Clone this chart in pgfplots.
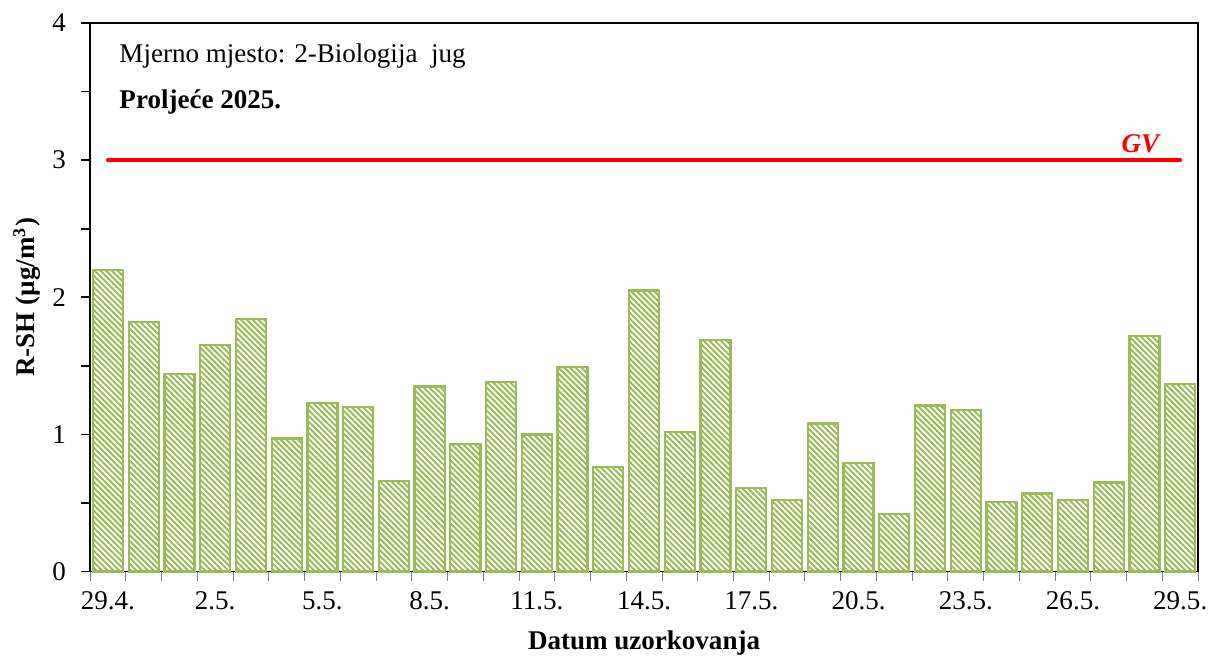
\documentclass[12pt,border=0pt]{standalone}
\usepackage{fontspec}
\setmainfont{Liberation Serif}
\usepackage{pgfplots}
\pgfplotsset{compat=1.18}
\usetikzlibrary{patterns.meta}

\definecolor{barGreen}{HTML}{9BBB59}

\begin{document}
\begin{tikzpicture}
\begin{axis}[
    scale only axis,
    width=492pt, height=243.6pt,
    xmin=-0.5, xmax=30.5,
    ymin=0, ymax=4,
    ytick={0,1,2,3,4},
    minor ytick={0.5,1.5,2.5,3.5},
    xtick={0,3,...,30},
    xticklabels={29.4.,2.5.,5.5.,8.5.,11.5.,14.5.,17.5.,20.5.,23.5.,26.5.,29.5.},
    minor xtick={-0.5,0.5,...,30.5},
    x tick style={draw=none},
    minor x tick style={draw=gray, thin},
    tick align=outside,
    major tick length=4pt,
    minor tick length=4pt,
    xtick pos=bottom, ytick pos=left,
    axis line style={black, line width=0.8pt},
    y tick style={black, line width=0.8pt},
    yticklabel style={xshift=-2.5pt},
    xticklabel style={text height=1.6ex, text depth=0.3ex},
    /pgf/number format/assume math mode=true,
    xlabel={\textbf{Datum uzorkovanja}},
    xlabel style={yshift=0.8pt},
    clip=false,
]
\addplot[ybar, bar width=0.84, draw=barGreen, line width=1pt,
    pattern={Lines[angle=-45, distance=1.8pt, line width=0.9pt]},
    pattern color=barGreen]
coordinates {
    (0,2.20) (1,1.82) (2,1.44) (3,1.65) (4,1.84) (5,0.97) (6,1.23) (7,1.20)
    (8,0.66) (9,1.35) (10,0.93) (11,1.38) (12,1.00) (13,1.49) (14,0.76)
    (15,2.05) (16,1.02) (17,1.69) (18,0.61) (19,0.52) (20,1.08) (21,0.79)
    (22,0.42) (23,1.21) (24,1.18) (25,0.51) (26,0.57) (27,0.52) (28,0.65)
    (29,1.72) (30,1.37)
};
\addplot[red, line width=1.8pt, line cap=round] coordinates {(0,3) (30,3)};
\node[anchor=west] at (rel axis cs:0.018,0.94) {Mjerno mjesto: 2-Biologija\ \ jug};
\node[anchor=west, font=\bfseries] at (rel axis cs:0.018,0.856) {Proljeće 2025.};
\node[red, font=\bfseries\itshape] at (rel axis cs:0.948,0.78) {GV};
\node[rotate=90, font=\bfseries] at ([xshift=-28pt]rel axis cs:0,0.5) {R-SH (µg/m\textsuperscript{3})};
\end{axis}
\pgfresetboundingbox
\path[use as bounding box] ([shift={(-40pt,-38.2pt)}]current axis.south west) rectangle ([shift={(4.4pt,10.2pt)}]current axis.north east);
\end{tikzpicture}
\end{document}
